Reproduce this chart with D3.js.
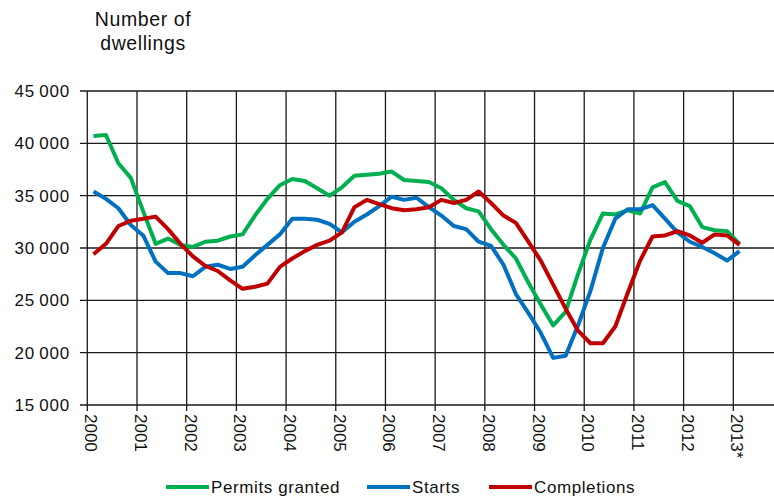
<!DOCTYPE html>
<html>
<head>
<meta charset="utf-8">
<script src="https://cdn.jsdelivr.net/npm/d3@7"></script>
<style>
  body { margin: 0; background: #fff; }
  text { font-family: "Liberation Sans", Arial, sans-serif; fill: #111; }
</style>
</head>
<body>
<svg id="chart" width="774" height="500"></svg>
<script>
// Quarterly data 2000 Q1 .. 2013 Q1 (moving sums)
const startYear = 2000;
const yearLabels = ["2000", "2001", "2002", "2003", "2004", "2005", "2006",
  "2007", "2008", "2009", "2010", "2011", "2012", "2013*"];
const yTicks = [15000, 20000, 25000, 30000, 35000, 40000, 45000];

const permits = [
  40700, 40800, 38100, 36700, 33500, 30400, 30900, 30300, 30100, 30600,
  30700, 31100, 31300, 33100, 34700, 36000, 36600, 36400, 35700, 35000,
  35800, 36900, 37000, 37100, 37300, 36500, 36400, 36300, 35700, 34600,
  33800, 33500, 31800, 30300, 29000, 26700, 24600, 22600, 23900, 27500,
  30800, 33300, 33200, 33600, 33300, 35800, 36300, 34500, 34000, 32000,
  31700, 31600, 30400,
];
const starts = [
  35400, 34700, 33800, 32200, 31200, 28700, 27600, 27600, 27300, 28200,
  28400, 28000, 28200, 29300, 30300, 31300, 32800, 32800, 32700, 32300,
  31500, 32500, 33200, 34000, 34900, 34600, 34800, 33900, 33100, 32100,
  31800, 30600, 30200, 28400, 25600, 23800, 21900, 19500, 19700, 22600,
  25900, 30000, 32800, 33700, 33700, 34100, 32800, 31500, 30600, 30100,
  29500, 28800, 29700,
];
const completions = [
  29400, 30400, 32100, 32600, 32800, 33000, 31800, 30400, 29200, 28300,
  27800, 26900, 26100, 26300, 26600, 28200, 29000, 29700, 30300, 30700,
  31500, 33900, 34600, 34200, 33800, 33600, 33700, 33900, 34600, 34300,
  34600, 35400, 34300, 33100, 32400, 30600, 28800, 26500, 24200, 22100,
  20900, 20900, 22500, 25700, 28800, 31100, 31200, 31600, 31200, 30500,
  31300, 31200, 30300,
];

const seriesNames = ["Permits granted", "Starts", "Completions"];
const seriesColors = ["#00b050", "#0070c0", "#c00000"];
const seriesValues = [permits, starts, completions];

const svg = d3.select("#chart");

const x = d3.scaleLinear().domain([2000, 2014]).range([87.3, 783]);
const y = d3.scaleLinear().domain([15000, 45000]).range([405, 91]);

// grid
const grid = svg.append("g").attr("stroke", "#1a1a1a").attr("stroke-width", 1.3);
grid.selectAll("line.h")
  .data(yTicks)
  .enter()
  .append("line")
  .attr("x1", 80)
  .attr("x2", 774)
  .attr("y1", (d) => y(d))
  .attr("y2", (d) => y(d));
grid.selectAll("line.v")
  .data(yearLabels)
  .enter()
  .append("line")
  .attr("x1", (d, i) => x(startYear + i))
  .attr("x2", (d, i) => x(startYear + i))
  .attr("y1", y(45000))
  .attr("y2", 411);

// y labels
svg.append("g")
  .selectAll("text")
  .data(yTicks)
  .enter()
  .append("text")
  .attr("x", 70)
  .attr("y", (d) => y(d))
  .attr("dy", "0.36em")
  .attr("text-anchor", "end")
  .style("font-size", "17px")
  .style("letter-spacing", "0.8px")
  .text((d) => d3.format(",")(d).replace(",", "\u2009"));

// x labels (rotated)
svg.append("g")
  .selectAll("text")
  .data(yearLabels)
  .enter()
  .append("text")
  .attr("transform", (d, i) => `translate(${x(startYear + i) - 2},414) rotate(90)`)
  .style("font-size", "17px")
  .text((d) => d);

// title
const title = svg.append("text")
  .attr("text-anchor", "middle")
  .style("font-size", "19.5px")
  .style("letter-spacing", "0.6px");
title.append("tspan").attr("x", 143).attr("y", 26).text("Number of");
title.append("tspan").attr("x", 143).attr("y", 50).text("dwellings");

// lines
const line = d3.line()
  .x((d, i) => x(startYear + (i + 0.5) / 4))
  .y((d) => y(d));

svg.append("g")
  .selectAll("path")
  .data(seriesValues)
  .enter()
  .append("path")
  .attr("d", line)
  .attr("fill", "none")
  .attr("stroke", (d, i) => seriesColors[i])
  .attr("stroke-width", 4)
  .attr("stroke-linejoin", "round");

// legend
const legendX = [166, 367, 489];
const legend = svg.append("g")
  .selectAll("g")
  .data(seriesNames)
  .enter()
  .append("g")
  .attr("transform", (d, i) => `translate(${legendX[i]},487)`);
legend.append("line")
  .attr("x1", 0)
  .attr("x2", 43)
  .attr("stroke", (d, i) => seriesColors[i])
  .attr("stroke-width", 4);
legend.append("text")
  .attr("x", 45)
  .attr("dy", "0.36em")
  .style("font-size", "17px")
  .style("letter-spacing", "0.6px")
  .text((d) => d);
</script>
</body>
</html>
